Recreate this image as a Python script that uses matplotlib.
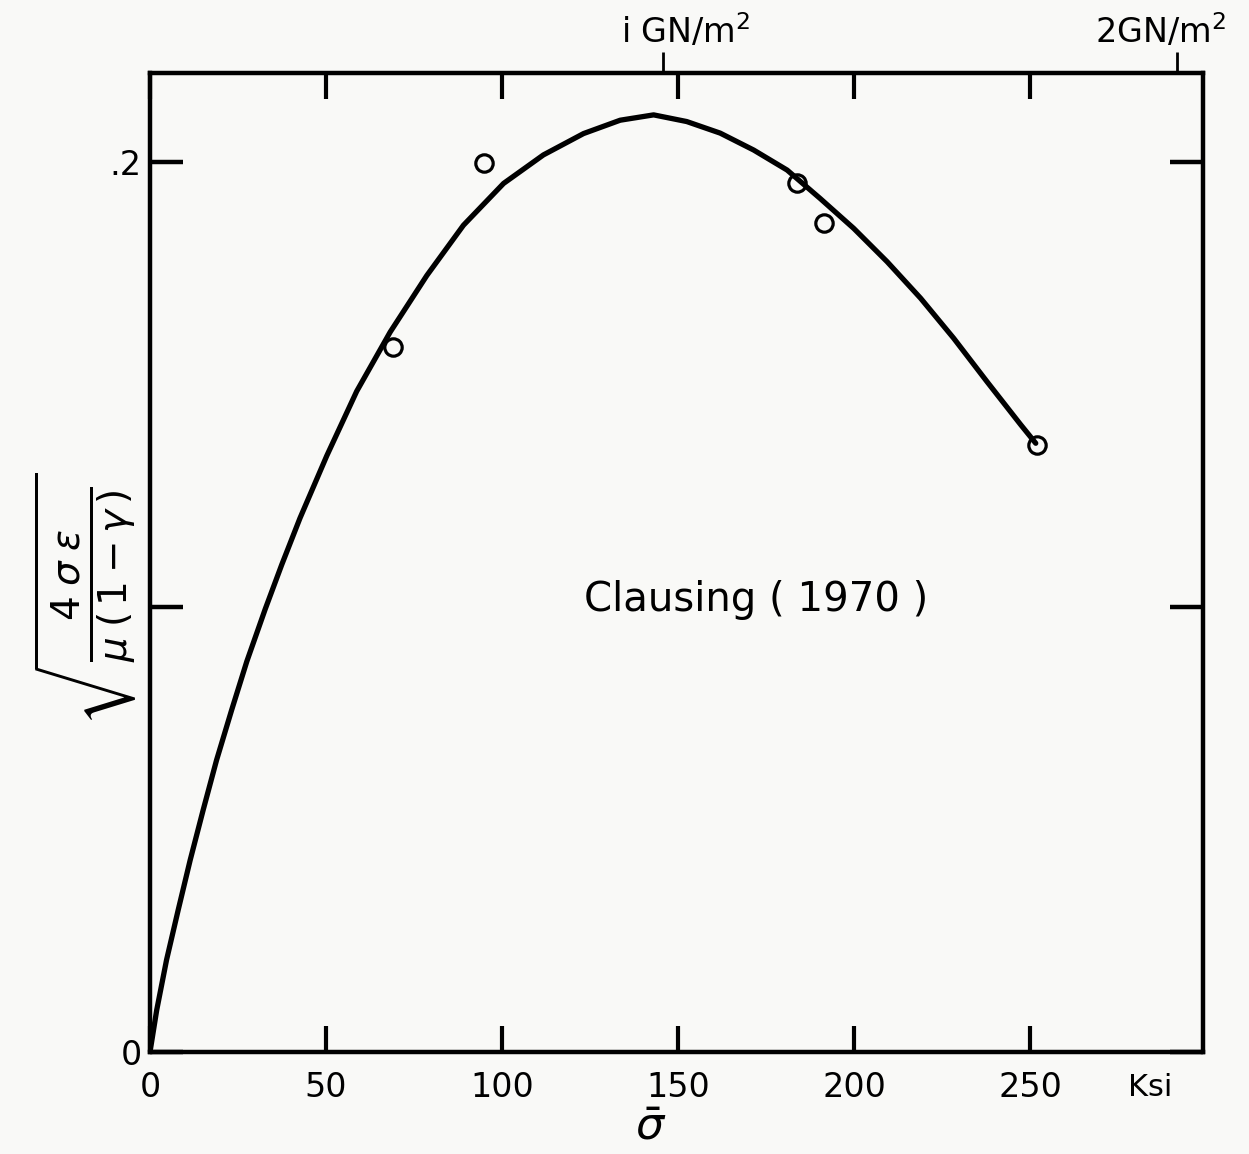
import matplotlib
matplotlib.use("Agg")
import matplotlib.pyplot as plt
import matplotlib.transforms as mtransforms

# fitted curve through the Clausing data (stress in ksi)
curve_ksi = [0, 1.9, 4.7, 8.0, 11.4, 15.1, 18.9, 23.2, 27.5, 32.7, 37.4,
             42.6, 50.2, 58.7, 68.2, 78.6, 89.0, 100.4, 111.7, 123.1, 133.5,
             143.0, 152.4, 161.9, 171.4, 180.9, 190.3, 199.8, 209.3, 218.8,
             228.2, 237.7, 247.2, 251.5]
curve_val = [0, 0.0094, 0.0207, 0.0319, 0.0431, 0.0544, 0.0656, 0.0769,
             0.0878, 0.0995, 0.1095, 0.1200, 0.1340, 0.1485, 0.1618, 0.1745,
             0.1858, 0.1952, 0.2016, 0.2064, 0.2094, 0.2106, 0.2091, 0.2065,
             0.2027, 0.1982, 0.1918, 0.1851, 0.1776, 0.1694, 0.1604, 0.1506,
             0.1410, 0.1368]

# measured points
pts_ksi = [68.9, 94.7, 183.7, 191.3, 251.9]
pts_val = [0.1584, 0.1997, 0.1952, 0.1862, 0.1364]

xticks = [0, 50, 100, 150, 200, 250]
xticklabels = ['0', '50', '100', '150', '200', '250']
yticks = [0, 0.1, 0.2]
yticklabels = ['0', '', '.2']
gn_ticks = [1, 2]
gn_labels = ['i GN/m$^2$', '2GN/m$^2$']
gn_label_x = [152, 287]
KSI_PER_GN = 145.8

plt.rcParams['font.family'] = 'DejaVu Sans'
plt.rcParams['mathtext.fontset'] = 'dejavusans'

bg = '#f9f9f7'
fig = plt.figure(figsize=(12.49, 11.54), dpi=100, facecolor=bg)
ax = fig.add_axes([0.1201, 0.0884, 0.8431, 0.8483])
ax.set_facecolor(bg)

ax.plot(curve_ksi, curve_val, color='black', lw=3.8,
        solid_capstyle='round', solid_joinstyle='round')
ax.plot(pts_ksi, pts_val, 'o', ms=12.5, mfc='none', mec='black', mew=2.3)

ax.set_xlim(0, 299)
ax.set_ylim(0, 0.22)

for s in ax.spines.values():
    s.set_linewidth(3.2)

ax.set_xticks(xticks)
ax.set_xticklabels(xticklabels, fontsize=24)
ax.set_yticks(yticks)
ax.set_yticklabels(yticklabels, fontsize=24)
ax.tick_params(axis='x', direction='in', length=19, width=3, top=True,
               labeltop=False, pad=14)
ax.tick_params(axis='y', direction='in', length=24, width=3.2, right=True,
               pad=6)

ax.text(0.95, -0.036, 'Ksi', transform=ax.transAxes, fontsize=22,
        ha='center', va='center')

# GN/m^2 scale along the top edge
sec = ax.secondary_xaxis('top', functions=(lambda k: k / KSI_PER_GN,
                                           lambda g: g * KSI_PER_GN))
sec.set_xticks(gn_ticks)
sec.set_xticklabels([])
sec.tick_params(direction='out', length=15, width=2, pad=4)
sec.spines['top'].set_visible(False)
top_tr = mtransforms.blended_transform_factory(ax.transData, ax.transAxes)
for x, lab in zip(gn_label_x, gn_labels):
    ax.text(x, 1.024, lab, transform=top_tr, fontsize=24, ha='center',
            va='bottom')

ax.text(172, 0.1015, 'Clausing ( 1970 )', fontsize=29, ha='center',
        va='center')

ax.set_xlabel(r'$\bar{\sigma}$', fontsize=32)
ax.xaxis.set_label_coords(0.475, -0.055)
ax.set_ylabel(r'$\sqrt{\frac{4\;\sigma\;\epsilon}{\mu\;(\,1-\gamma\,)}}$',
              fontsize=40)
ax.yaxis.set_label_coords(-0.01, 0.462)

fig.savefig('out.png', dpi=100, facecolor=fig.get_facecolor())
